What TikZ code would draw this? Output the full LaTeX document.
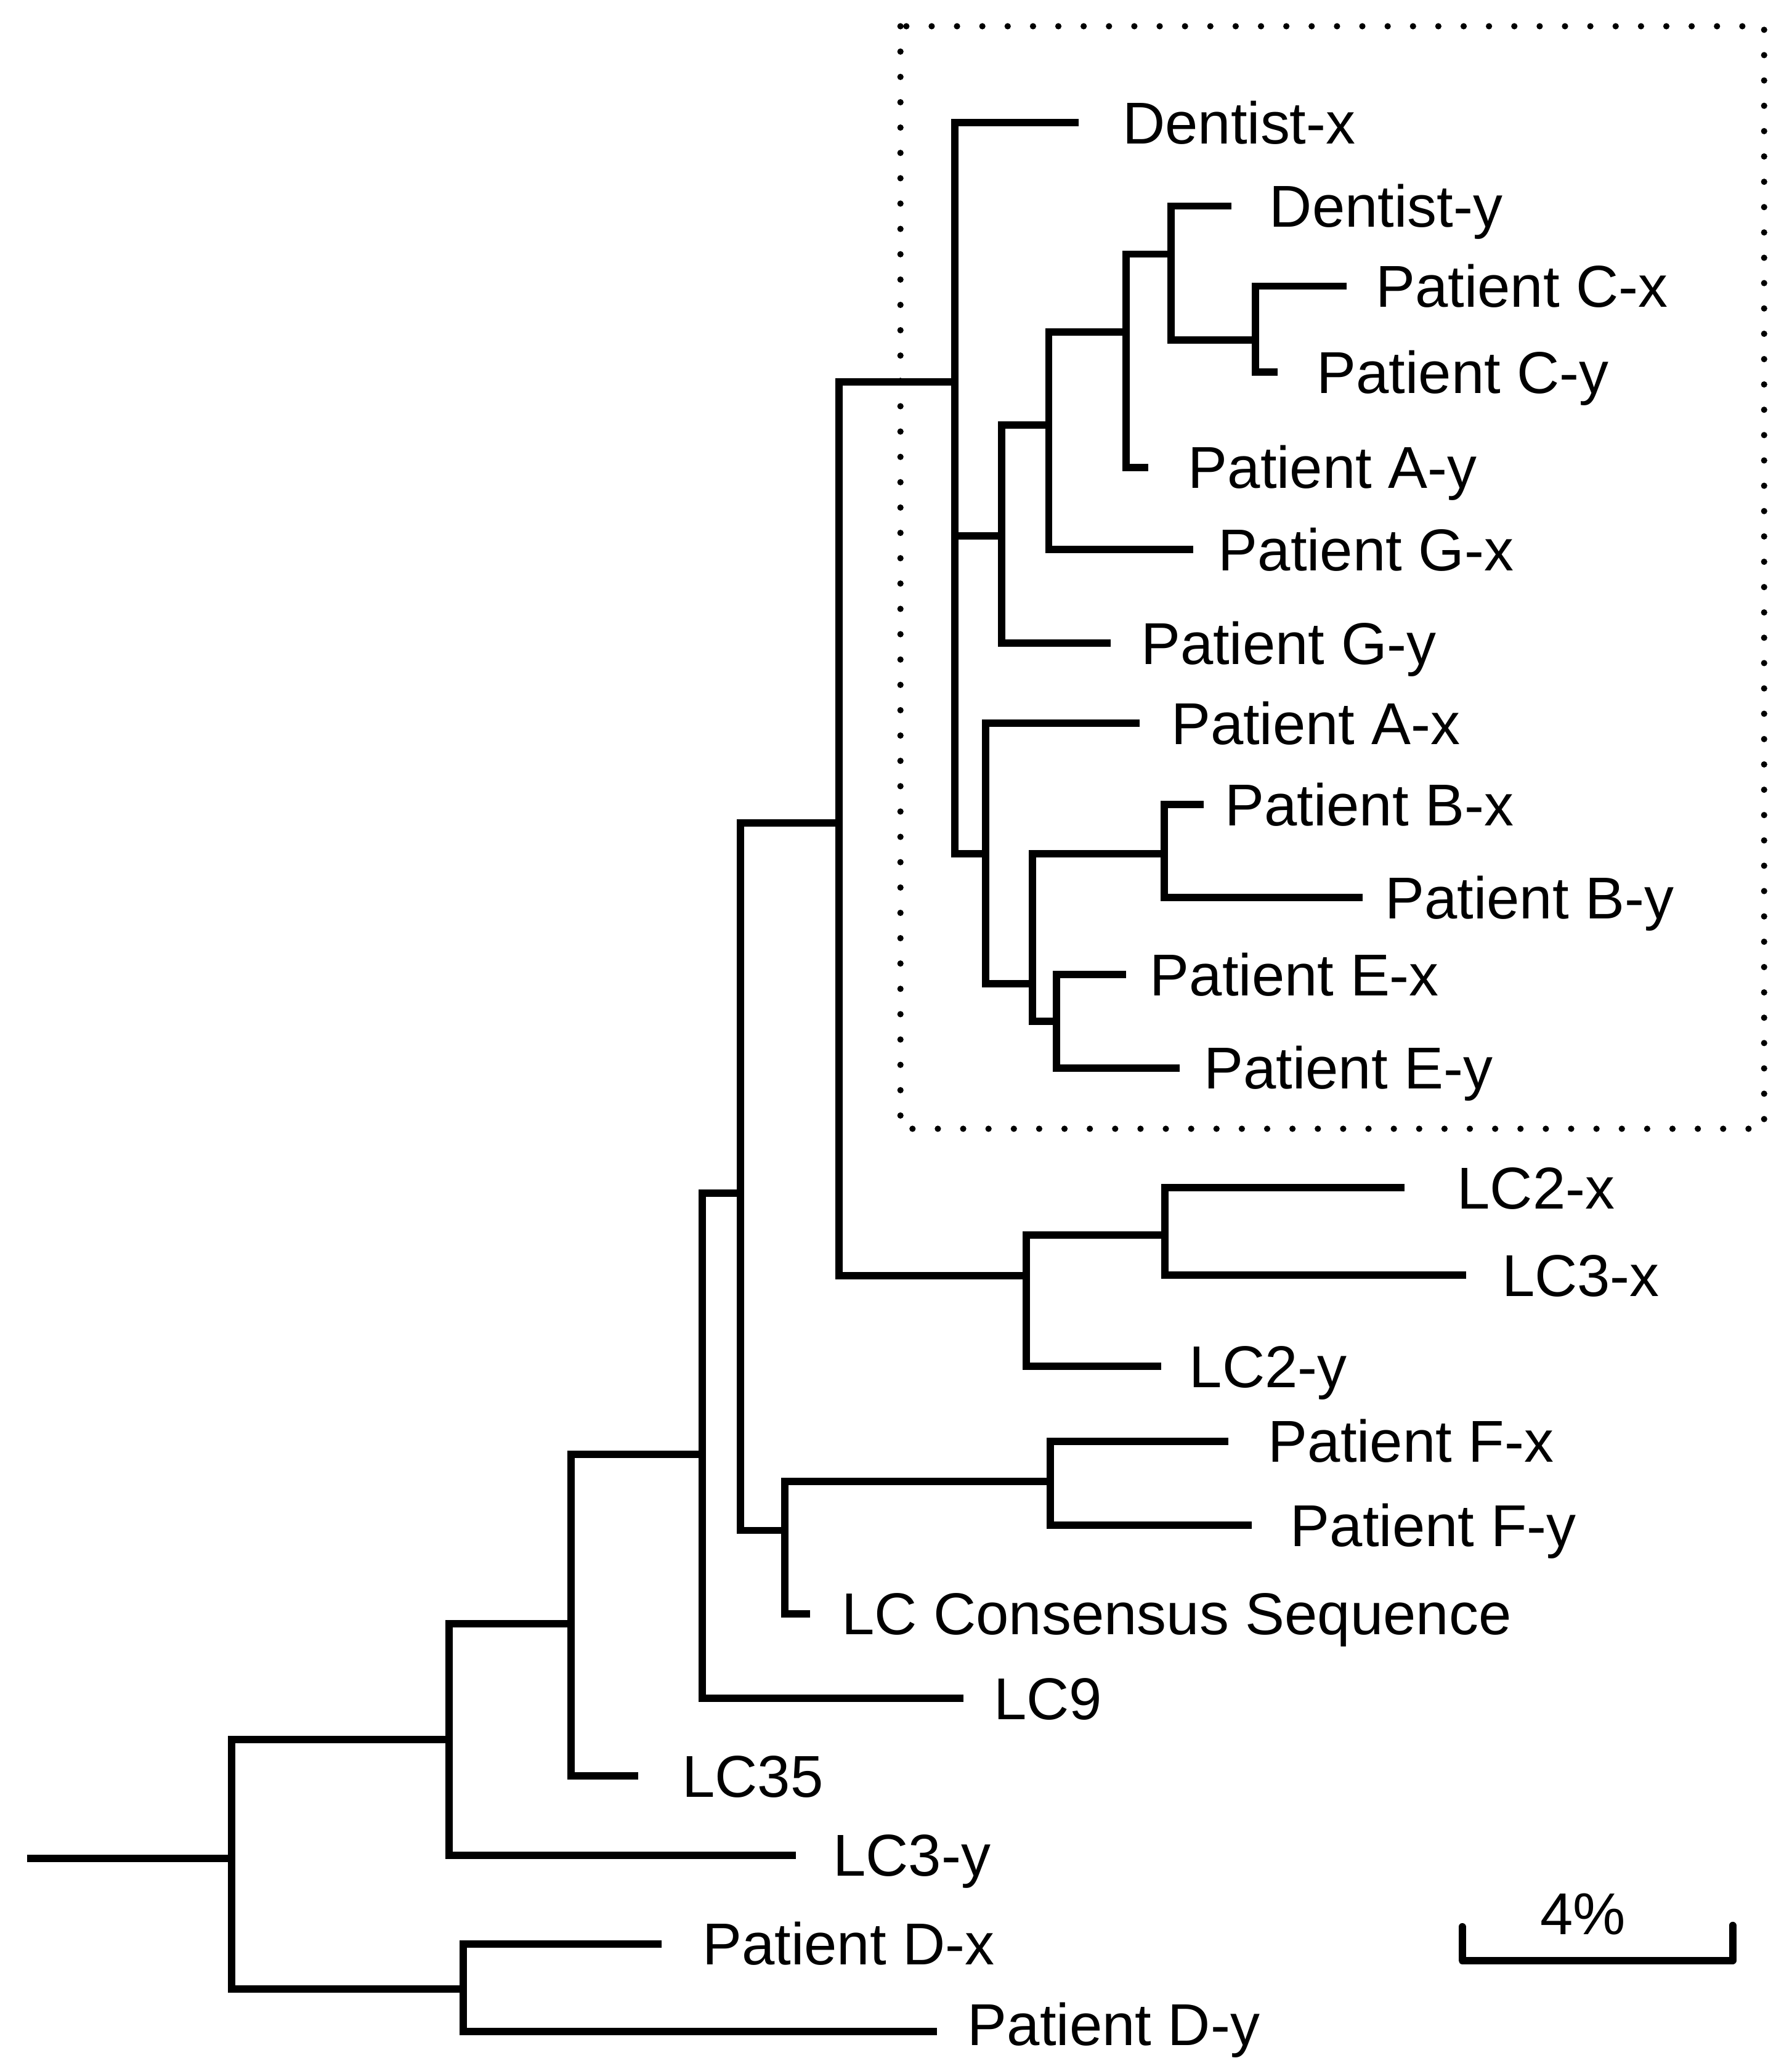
\documentclass[tikz,border=0pt]{standalone}
\usepackage{fontspec}
\setmainfont{Liberation Sans}
\begin{document}
\begin{tikzpicture}[x=1pt,y=-1pt,
  branch/.style={line width=5.6pt, line join=miter, line cap=butt},
  leaf/.style={anchor=base west, inner sep=0pt, font=\fontsize{45}{54}\selectfont},
  dotbox/.style={line width=4.8pt, line cap=round, dash pattern=on 0pt off 19.3pt},
  scalebar/.style={line width=5.6pt, line join=round, line cap=round}]
\useasboundingbox (0,0) rectangle (1365,1568);

% dotted frame around the dentist/patient clade
\draw[dotbox] (686,20) rectangle (1344,860);

% inner nodes (x of the vertical bar, y where the parent branch enters)
\coordinate (n0) at (20.5,1416);
\coordinate (n1) at (176.5,1416);
\coordinate (n2) at (342,1325.5);
\coordinate (n3) at (435,1237);
\coordinate (n4) at (535,1108);
\coordinate (n5) at (564,909);
\coordinate (n6) at (639,627);
\coordinate (n7) at (727.5,291);
\coordinate (n8) at (763,408.5);
\coordinate (n9) at (799,324);
\coordinate (n10) at (858,253);
\coordinate (n11) at (892,193.6);
\coordinate (n12) at (956.5,259);
\coordinate (n13) at (751,650.5);
\coordinate (n14) at (786.6,749.6);
\coordinate (n15) at (887,650.5);
\coordinate (n16) at (805,778);
\coordinate (n17) at (782,972);
\coordinate (n18) at (887.6,941);
\coordinate (n19) at (598,1166);
\coordinate (n20) at (800,1128.6);
\coordinate (n21) at (353,1515.5);

% leaf tips
\coordinate (tDentx) at (822,93.4);
\coordinate (tDenty) at (938,157);
\coordinate (tCx) at (1026,218);
\coordinate (tCy) at (973.5,283.5);
\coordinate (tAy) at (875,356);
\coordinate (tGx) at (909,418.6);
\coordinate (tGy) at (846,490);
\coordinate (tAx) at (868,551);
\coordinate (tBx) at (917,613);
\coordinate (tBy) at (1038,684);
\coordinate (tEx) at (858,742.5);
\coordinate (tEy) at (898.6,813.7);
\coordinate (tLCtwox) at (1070,905);
\coordinate (tLCthreex) at (1117,971.5);
\coordinate (tLCtwoy) at (884.6,1041);
\coordinate (tFx) at (936,1098);
\coordinate (tFy) at (953.6,1162);
\coordinate (tLCC) at (617,1229.5);
\coordinate (tLCnine) at (734,1294);
\coordinate (tLCtf) at (486,1353);
\coordinate (tLCthreey) at (606.5,1413.5);
\coordinate (tDx) at (504,1481);
\coordinate (tDy) at (714,1548);

% leaf labels
\node[leaf] (lDentx) at (855,109.4) {Dentist-x};
\node[leaf] (lDenty) at (967,173) {Dentist-y};
\node[leaf] (lCx) at (1048,234) {Patient C-x};
\node[leaf] (lCy) at (1003,299.5) {Patient C-y};
\node[leaf] (lAy) at (905,372) {Patient A-y};
\node[leaf] (lGx) at (928,434.6) {Patient G-x};
\node[leaf] (lGy) at (869,506) {Patient G-y};
\node[leaf] (lAx) at (892,567) {Patient A-x};
\node[leaf] (lBx) at (933,629) {Patient B-x};
\node[leaf] (lBy) at (1055,700) {Patient B-y};
\node[leaf] (lEx) at (876,758.5) {Patient E-x};
\node[leaf] (lEy) at (917,829.7) {Patient E-y};
\node[leaf] (lLCtwox) at (1110,921) {LC2-x};
\node[leaf] (lLCthreex) at (1144,987.5) {LC3-x};
\node[leaf] (lLCtwoy) at (906,1057) {LC2-y};
\node[leaf] (lFx) at (966,1114) {Patient F-x};
\node[leaf] (lFy) at (983,1178) {Patient F-y};
\node[leaf] (lLCC) at (641,1245.5) {LC Consensus Sequence};
\node[leaf] (lLCnine) at (757,1310) {LC9};
\node[leaf] (lLCtf) at (519.5,1369) {LC35};
\node[leaf] (lLCthreey) at (634.5,1429.5) {LC3-y};
\node[leaf] (lDx) at (535,1497) {Patient D-x};
\node[leaf] (lDy) at (737,1558.5) {Patient D-y};

% branches
\draw[branch] (n0) -- (n1);
\draw[branch] (n1) |- (n2);   \draw[branch] (n1) |- (n21);
\draw[branch] (n2) |- (n3);   \draw[branch] (n2) |- (tLCthreey);
\draw[branch] (n3) |- (n4);   \draw[branch] (n3) |- (tLCtf);
\draw[branch] (n4) |- (n5);   \draw[branch] (n4) |- (tLCnine);
\draw[branch] (n5) |- (n6);   \draw[branch] (n5) |- (n19);
\draw[branch] (n6) |- (n7);   \draw[branch] (n6) |- (n17);
\draw[branch] (n7) |- (tDentx); \draw[branch] (n7) |- (n8); \draw[branch] (n7) |- (n13);
\draw[branch] (n8) |- (n9);   \draw[branch] (n8) |- (tGy);
\draw[branch] (n9) |- (n10);  \draw[branch] (n9) |- (tGx);
\draw[branch] (n10) |- (n11); \draw[branch] (n10) |- (tAy);
\draw[branch] (n11) |- (tDenty); \draw[branch] (n11) |- (n12);
\draw[branch] (n12) |- (tCx); \draw[branch] (n12) |- (tCy);
\draw[branch] (n13) |- (tAx); \draw[branch] (n13) |- (n14);
\draw[branch] (n14) |- (n15); \draw[branch] (n14) |- (n16);
\draw[branch] (n15) |- (tBx); \draw[branch] (n15) |- (tBy);
\draw[branch] (n16) |- (tEx); \draw[branch] (n16) |- (tEy);
\draw[branch] (n17) |- (n18); \draw[branch] (n17) |- (tLCtwoy);
\draw[branch] (n18) |- (tLCtwox); \draw[branch] (n18) |- (tLCthreex);
\draw[branch] (n19) |- (n20); \draw[branch] (n19) |- (tLCC);
\draw[branch] (n20) |- (tFx); \draw[branch] (n20) |- (tFy);
\draw[branch] (n21) |- (tDx); \draw[branch] (n21) |- (tDy);

% scale bar
\coordinate (sbL) at (1114,1468);
\coordinate (sbR) at (1320,1467);
\draw[scalebar] (sbL) |- (1217,1493.7) -| (sbR);
\node[leaf, anchor=base] (sblabel) at (1206,1474) {4\%};
\end{tikzpicture}
\end{document}
